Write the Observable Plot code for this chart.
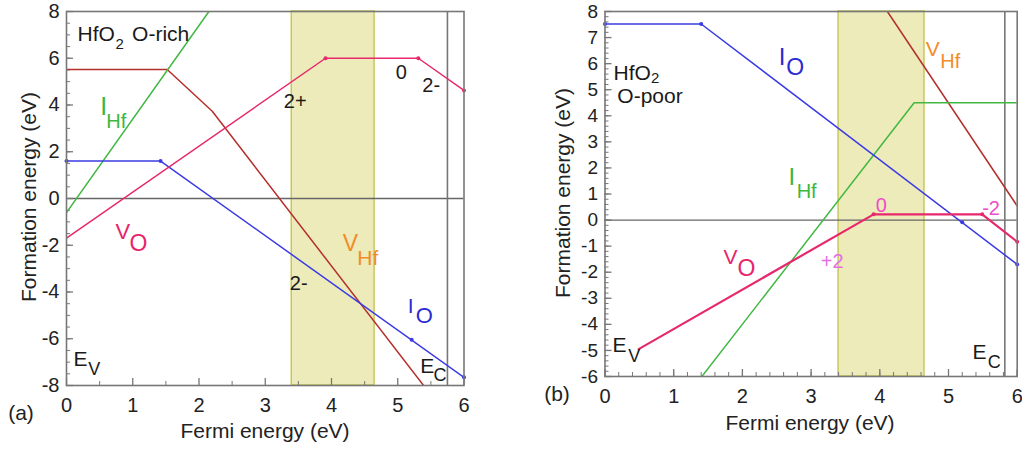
<!DOCTYPE html>
<html><head><meta charset="utf-8">
<script src="https://cdn.jsdelivr.net/npm/d3@7"></script>
<script src="https://cdn.jsdelivr.net/npm/@observablehq/plot@0.6"></script>
<style>
body{margin:0;background:#fff;}
#fig{position:relative;width:1022px;height:452px;overflow:hidden;font-family:"Liberation Sans",Arial,sans-serif;color:#222;background:#fff;}
.p{position:absolute;top:0;}
.t{position:absolute;font-size:21px;white-space:nowrap;transform:translate(-50%,-50%);line-height:1;}
.r{transform:translate(-50%,-50%) rotate(-90deg);}
</style></head><body><div id="fig"></div>
<script>
// ---------- data ----------
const xTicks = [0, 1, 2, 3, 4, 5, 6];
const xMinorA = [0.5, 1.5, 2.5, 3.5, 4.5, 5.5];
const xMinorB = d3.range(0, 6.001, 0.2).map(v => +v.toFixed(1));
const yTicksA = [-8, -6, -4, -2, 0, 2, 4, 6, 8];
const yMinorA = d3.range(-8, 8.001, 0.5).map(v => +v.toFixed(1));
const yTicksB = [-6, -5, -4, -3, -2, -1, 0, 1, 2, 3, 4, 5, 6, 7, 8];
const yMinorB = d3.range(-6, 8.001, 0.2).map(v => +v.toFixed(1));
const bandGap = [{x1: 3.4, x2: 4.65}];
const ecA = 5.75, ecB = 5.82;

// panel (a): HfO2 O-rich
const aVHfX = [0, 1.52, 2.2, 5.39],      aVHfY = [5.52, 5.52, 3.73, -8];
const aIHfX = [0, 2.15],                 aIHfY = [-0.6, 8];
const aIOX  = [0, 1.42, 6],              aIOY  = [1.6, 1.6, -7.65];
const aIODotX = [0, 1.42, 5.21, 6],      aIODotY = [1.6, 1.6, -6.04, -7.65];
const aVOX  = [0, 3.91, 5.31, 6],        aVOY  = [-1.7, 6.0, 6.0, 4.62];
const aVODotX = [3.91, 5.31, 6],         aVODotY = [6.0, 6.0, 4.62];

// panel (b): HfO2 O-poor
const bVHfX = [4.11, 6],                 bVHfY = [8, 0.54];
const bIHfX = [1.41, 4.5, 6],            bIHfY = [-6, 4.5, 4.5];
const bIOX  = [0, 1.4, 6],               bIOY  = [7.52, 7.52, -1.7];
const bIODotX = [0, 1.4, 5.2, 6],        bIODotY = [7.52, 7.52, -0.08, -1.7];
const bVOX  = [0.49, 3.91, 5.49, 6],     bVOY  = [-4.95, 0.22, 0.22, -0.83];
const bVODotX = [3.91, 5.49, 6],         bVODotY = [0.22, 0.22, -0.83];

// ---------- styles ----------
const C = {vhf: "#b5302c", ihf: "#42b842", io: "#3c3ce4", vo: "#e8286c",
           vhfLab: "#f28c2a", ihfLab: "#3cb83c", ioLab: "#2b2bd2", voLab: "#e8246a", k: "#1a1a1a",
           mag: "#f04ccc", vio: "#e46ee4"};
const zip = (xs, ys) => xs.map((x, i) => ({x, y: ys[i]}));

// annotations: [text, x, y, color, size]
const labA = [
  ["HfO", 0.166, 7.04, C.k, 21], ["2", 0.74, 6.59, C.k, 15], ["O-rich", 0.99, 7.04, C.k, 21],
  ["I", 0.51, 3.9, C.ihfLab, 25], ["Hf", 0.6, 3.28, C.ihfLab, 20],
  ["V", 0.74, -1.45, C.voLab, 22], ["O", 0.95, -1.95, C.voLab, 23],
  ["V", 4.17, -1.92, C.vhfLab, 23], ["Hf", 4.39, -2.56, C.vhfLab, 21],
  ["I", 5.15, -4.59, C.ioLab, 21], ["O", 5.27, -5.01, C.ioLab, 22],
  ["2+", 3.28, 4.16, C.k, 20], ["0", 4.97, 5.38, C.k, 20], ["2-", 5.37, 4.84, C.k, 20],
  ["2-", 3.37, -3.63, C.k, 20],
  ["E", 0.106, -6.87, C.k, 21], ["V", 0.33, -7.3, C.k, 18],
  ["E", 5.34, -7.17, C.k, 21], ["C", 5.54, -7.57, C.k, 18]
];
const labB = [
  ["HfO", 0.124, 5.63, C.k, 21], ["2", 0.67, 5.44, C.k, 15], ["O-poor", 0.18, 4.75, C.k, 21],
  ["I", 2.53, 6.25, C.ioLab, 24], ["O", 2.64, 5.84, C.ioLab, 23],
  ["V", 4.67, 6.57, C.vhfLab, 21], ["Hf", 4.88, 6.07, C.vhfLab, 20],
  ["I", 2.67, 1.65, C.ihfLab, 24], ["Hf", 2.79, 1.11, C.ihfLab, 20],
  ["0", 3.94, 0.54, C.mag, 20], ["-2", 5.49, 0.44, C.mag, 20], ["+2", 3.14, -1.59, C.vio, 20],
  ["V", 1.725, -1.44, C.voLab, 21], ["O", 1.93, -1.85, C.voLab, 23],
  ["E", 0.11, -4.81, C.k, 21], ["V", 0.34, -5.21, C.k, 18],
  ["E", 5.35, -5.08, C.k, 21], ["C", 5.57, -5.44, C.k, 18]
];

function panel(o) {
  const H = 452;
  const fw = o.width - o.ml - o.mr, fh = H - o.mt - o.mb;
  const marks = [
    Plot.rect(bandGap, {x1: "x1", x2: "x2", fill: "#ecebb9", stroke: "#c8c85a", strokeWidth: 1.5}),
    Plot.ruleY([0], {stroke: "#666", strokeWidth: 1.3}),
    Plot.ruleX([o.ec], {stroke: "#777", strokeWidth: 1.6}),
    Plot.ruleY(o.yMinor, {stroke: "#777", insetRight: fw - 4}),
    Plot.ruleY(o.yMajor, {stroke: "#777", strokeWidth: 1.3, insetRight: fw - 7}),
    Plot.ruleX(o.xMinor, {stroke: "#777", insetTop: fh - 4}),
    Plot.ruleX(xTicks, {stroke: "#777", strokeWidth: 1.3, insetTop: fh - 7}),
    ...o.series.map(s => Plot.line(s.data, {x: "x", y: "y", stroke: s.color, strokeWidth: s.w || 1.5, clip: true})),
    ...o.dots.map(s => Plot.dot(s.data, {x: "x", y: "y", fill: s.color, r: 2})),
    Plot.frame({stroke: "#777", strokeWidth: 1.6}),
    Plot.axisX({ticks: xTicks, tickSize: 0, tickPadding: 12, fontSize: 20, label: null, tickFormat: d => String(d)}),
    Plot.axisY({ticks: o.yMajor, tickSize: 0, tickPadding: 7, fontSize: o.yFont, label: null, tickFormat: d => String(d)}),
    ...o.labels.map(([t, x, y, c, s]) => Plot.text([{x, y}], {x: "x", y: "y", text: () => t, fill: c, fontSize: s, textAnchor: "start", lineAnchor: "middle"}))
  ];
  return Plot.plot({
    width: o.width, height: H, marginLeft: o.ml, marginRight: o.mr, marginTop: o.mt, marginBottom: o.mb,
    x: {domain: [0, 6], label: null}, y: {domain: o.yDom, label: null},
    style: {fontFamily: '"Liberation Sans", Arial, sans-serif', fontSize: "20px", color: "#222", background: "transparent", overflow: "visible"},
    marks
  });
}

const fig = document.getElementById("fig");
const pa = panel({
  width: 500, ml: 66, mr: 36.5, mt: 11, mb: 67, yDom: [-8, 8], yMajor: yTicksA, yMinor: yMinorA, xMinor: xMinorA, ec: ecA, yFont: 20,
  series: [
    {data: zip(aVHfX, aVHfY), color: C.vhf}, {data: zip(aIHfX, aIHfY), color: C.ihf},
    {data: zip(aIOX, aIOY), color: C.io}, {data: zip(aVOX, aVOY), color: C.vo}
  ],
  dots: [{data: zip(aIODotX, aIODotY), color: C.io}, {data: zip(aVODotX, aVODotY), color: C.vo}],
  labels: labA
});
pa.classList.add("p"); pa.style.left = "0px";
fig.appendChild(pa);

const pb = panel({
  width: 512, ml: 94.5, mr: 5.3, mt: 11, mb: 76, yDom: [-6, 8], yMajor: yTicksB, yMinor: yMinorB, xMinor: xMinorB, ec: ecB, yFont: 19,
  series: [
    {data: zip(bVHfX, bVHfY), color: C.vhf}, {data: zip(bIHfX, bIHfY), color: C.ihf},
    {data: zip(bIOX, bIOY), color: C.io}, {data: zip(bVOX, bVOY), color: C.vo, w: 2.2}
  ],
  dots: [{data: zip(bIODotX, bIODotY), color: C.io}, {data: zip(bVODotX, bVODotY), color: C.vo}],
  labels: labB
});
pb.classList.add("p"); pb.style.left = "510px";
fig.appendChild(pb);

const texts = [
  ["Fermi energy (eV)", 265, 430, ""], ["Fermi energy (eV)", 810, 422, ""],
  ["Formation energy (eV)", 28, 197, "r"], ["Formation energy (eV)", 562, 193, "r"],
  ["(a)", 21, 412, ""], ["(b)", 557, 393, ""]
];
for (const [t, x, y, cls] of texts) {
  const d = document.createElement("div");
  d.className = "t " + cls; d.textContent = t;
  d.style.left = x + "px"; d.style.top = y + "px";
  fig.appendChild(d);
}
</script></body></html>
